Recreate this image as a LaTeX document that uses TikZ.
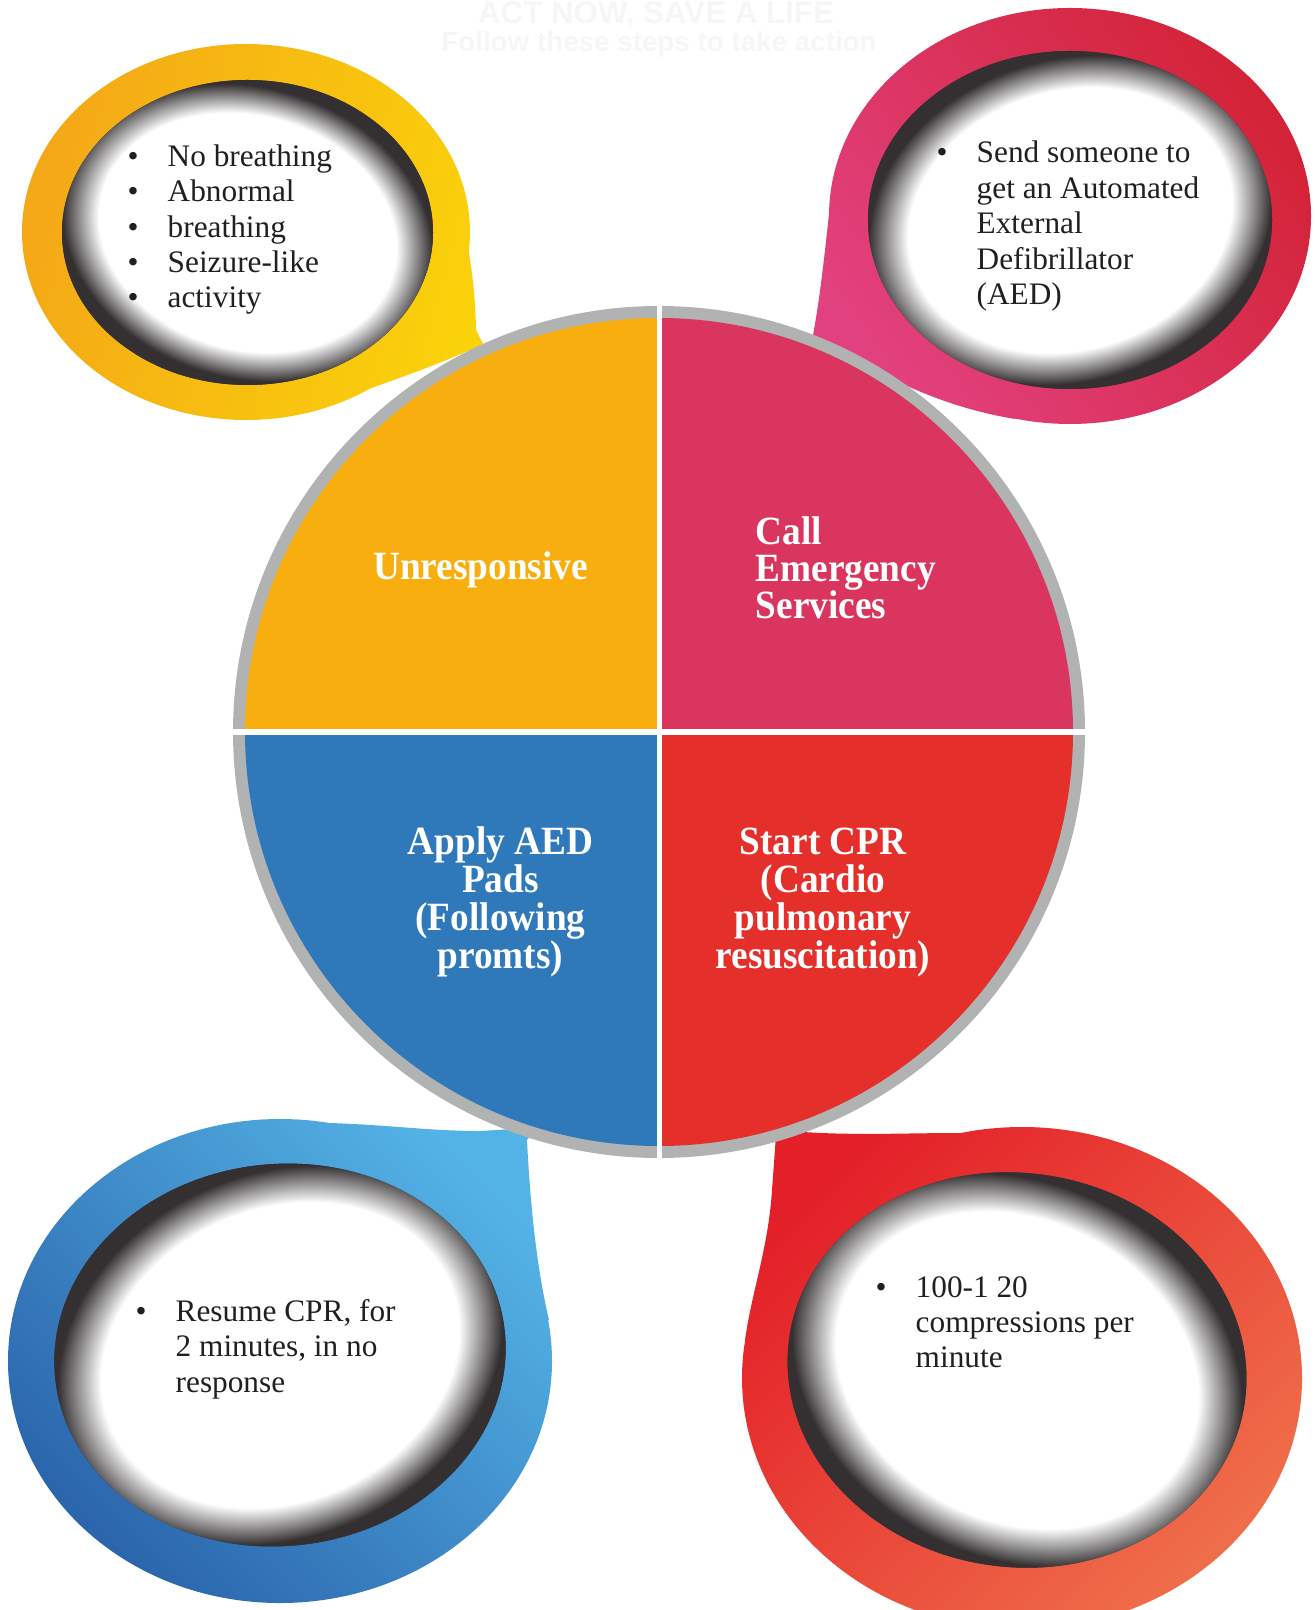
\documentclass[tikz,border=0pt]{standalone}
\usepackage{fontspec}
\setmainfont{Liberation Serif}
\newfontfamily\stepfont{Liberation Serif}[FakeStretch=0.93]
\newfontfamily\headfont{Liberation Sans}

\definecolor{ringgray}{HTML}{B1B3B3}
\definecolor{rimdark}{HTML}{343031}
\definecolor{inkdark}{HTML}{231F20}
\definecolor{faint}{HTML}{F6F6F6}
\definecolor{qyellow}{HTML}{F8AE0F}
\definecolor{qpink}{HTML}{D9355E}
\definecolor{qblue}{HTML}{2F78B9}
\definecolor{qred}{HTML}{E42F2A}
\definecolor{tlA}{HTML}{F4A817}\definecolor{tlB}{HTML}{FAD20A}
\definecolor{trA}{HTML}{E2417F}\definecolor{trB}{HTML}{D32337}
\definecolor{blA}{HTML}{2B65AC}\definecolor{blB}{HTML}{54B3E6}
\definecolor{brA}{HTML}{E31F28}\definecolor{brB}{HTML}{EF6E4A}

\pgfdeclareradialshading{rimfade}{\pgfpoint{0bp}{0bp}}{color(0bp)=(white);
  color(18.5bp)=(white); color(23bp)=(rimdark); color(50bp)=(rimdark)}

% white hole with dark inner rim: x, y, x radius, y radius, tilt, light direction
\newcommand{\rimhole}[6]{%
  \begin{scope}
    \clip[rotate around={#5:(#1,#2)}] (#1,#2) ellipse [x radius=#3, y radius=#4];
    \fill[rimdark] (#1,#2) circle [radius=320];
    \begin{scope}[transform canvas={shift={(#1,#2)}, rotate={#5+#6}, xscale=1.14, rotate={-#6}}]
      \shade[shading=rimfade] (0,0) ellipse [x radius=#3, y radius=#4];
    \end{scope}
  \end{scope}}

\begin{document}
\begin{tikzpicture}[x=0.01cm,y=-0.01cm,
    steplabel/.style={font=\stepfont\bfseries\fontsize{11.4}{10.7}\selectfont,
                      text=white,inner sep=0pt,anchor=base},
    bultxt/.style={font=\fontsize{8.9}{10}\selectfont,text=inkdark,
                   inner sep=0pt,anchor=base west},
    bulmark/.style={font=\fontsize{8.9}{10}\selectfont,text=inkdark,
                    inner sep=0pt,anchor=base},
    headtxt/.style={font=\headfont\bfseries,text=faint,inner sep=0pt,anchor=base},
    gap/.style={white,line width=1.5pt}]
  \useasboundingbox (0,0) rectangle (1314,1610);

  \node[headtxt,font=\headfont\bfseries\fontsize{8.9}{9}\selectfont] (title) at (656,24) {ACT NOW, SAVE A LIFE};
  \node[headtxt,font=\headfont\bfseries\fontsize{7.9}{9}\selectfont] (subtitle) at (659,52) {Follow these steps to take action};

  % bubbles
  \shade[left color=tlA,right color=tlB,shading angle=75]
    (246,232) ellipse [x radius=224, y radius=188]
    (246,232) -- (400,95.5) .. controls (439,127) and (474,220) .. (476,330)
    -- (495,368) -- (470,350) .. controls (430,368) and (380,385) .. (300,413) -- cycle;
  \rimhole{247.5}{232.5}{185.5}{152.5}{0}{-40}

  \shade[left color=trA,right color=trB,shading angle=125]
    (1070,216) ellipse [x radius=241, y radius=208]
    (1070,216) -- (1015,419) .. controls (960,410) and (910,390) .. (868,366)
    -- (850,390) -- (812,340) .. controls (820,300) and (825,250) .. (830,205) -- cycle;
  \rimhole{1070}{220}{202}{169}{0}{40}

  \shade[left color=blA,right color=blB,shading angle=135]
    (280,1361) ellipse [x radius=272, y radius=242]
    (280,1361) -- (330,1123) .. controls (390,1125) and (430,1131) .. (480,1131)
    -- (545,1127) -- (560,1100) -- (527,1140) .. controls (530,1200) and (536,1265) .. (549,1320) -- cycle;
  \rimhole{280}{1355}{226}{191}{6}{40}

  \shade[left color=brA,right color=brB,shading angle=45]
    (1022,1378) ellipse [x radius=280, y radius=251]
    (1022,1378) -- (745,1340) .. controls (752,1290) and (768,1250) .. (772,1190)
    -- (776,1135) -- (760,1100) -- (790,1131) .. controls (850,1136) and (900,1133) .. (960,1133) -- cycle;
  \rimhole{1017}{1370}{230}{197}{-8}{-40}

  % central circle
  \fill[ringgray] (659,732) circle [radius=426];
  \fill[qyellow] (659,732) -- (245,732) arc[start angle=180, end angle=270, radius=414] -- cycle;
  \fill[qpink] (659,732) -- (659,318) arc[start angle=270, end angle=360, radius=414] -- cycle;
  \fill[qred] (659,732) -- (1073,732) arc[start angle=0, end angle=90, radius=414] -- cycle;
  \fill[qblue] (659,732) -- (659,1146) arc[start angle=90, end angle=180, radius=414] -- cycle;
  \draw[gap] (659.3,295) -- (659.3,1170);
  \draw[gap] (222,732) -- (1096,732);

  \node[steplabel] (unresp) at (480.5,580) {Unresponsive};
  \foreach \t [count=\i] in {Call, Emergency, Services}
    \node[steplabel,anchor=base west] (call\i) at (755,{545+37*(\i-1)}) {\t};
  \foreach \t [count=\i] in {{Apply AED}, {Pads}, {(Following}, {promts)}}
    \node[steplabel] (aed\i) at (500.5,{854+38*(\i-1)}) {\t};
  \foreach \t [count=\i] in {{Start CPR}, {(Cardio}, {pulmonary}, {resuscitation)}}
    \node[steplabel] (cpr\i) at (823,{854+38*(\i-1)}) {\t};

  % bullet texts
  \foreach \t [count=\i] in {No breathing, Abnormal, breathing, Seizure-like, activity} {
    \node[bulmark] (tlb\i) at (133,{166.7+35.3*(\i-1)}) {\textbullet};
    \node[bultxt] (tlt\i) at (167,{166.7+35.3*(\i-1)}) {\t};
  }
  \node[bulmark] (trb) at (942,163) {\textbullet};
  \foreach \t [count=\i] in {Send someone to, get an Automated, External, Defibrillator, {(AED)}}
    \node[bultxt] (trt\i) at (976,{163+35.5*(\i-1)}) {\t};
  \node[bulmark] (blb) at (141,1321) {\textbullet};
  \foreach \t [count=\i] in {{Resume CPR, for}, {2 minutes, in no}, response}
    \node[bultxt] (blt\i) at (175,{1321+35.5*(\i-1)}) {\t};
  \node[bulmark] (brb) at (881,1297) {\textbullet};
  \foreach \t [count=\i] in {100-1 20, compressions per, minute}
    \node[bultxt] (brt\i) at (915,{1297+35*(\i-1)}) {\t};
\end{tikzpicture}
\end{document}
